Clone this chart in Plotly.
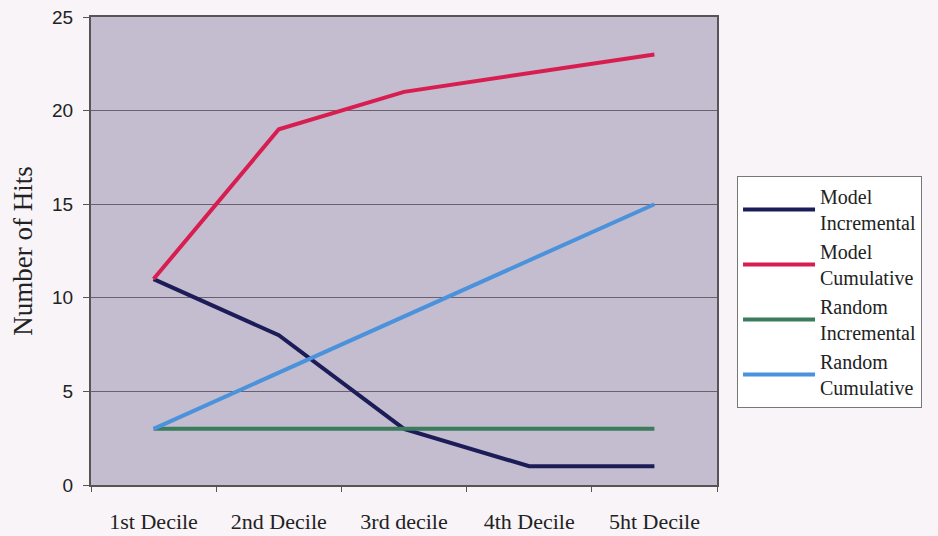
import plotly.graph_objects as go

categories = ["1st Decile", "2nd Decile", "3rd decile", "4th Decile", "5ht Decile"]
model_incremental = [11, 8, 3, 1, 1]
model_cumulative = [11, 19, 21, 22, 23]
random_incremental = [3, 3, 3, 3, 3]
random_cumulative = [3, 6, 9, 12, 15]

series = [
    ("Model<br>Incremental", model_incremental, "#1c1c58"),
    ("Model<br>Cumulative", model_cumulative, "#d81e50"),
    ("Random<br>Incremental", random_incremental, "#3a7c5c"),
    ("Random<br>Cumulative", random_cumulative, "#4a92dc"),
]

fig = go.Figure()
for name, vals, col in series:
    fig.add_trace(go.Scatter(x=categories, y=vals, mode="lines", name=name,
                             line=dict(color=col, width=4)))

fig.update_layout(
    width=938, height=536,
    margin=dict(l=91, r=221, t=17, b=51),
    paper_bgcolor="#f8f4f8",
    plot_bgcolor="#c4bccf",
    font=dict(family="Liberation Serif", color="#222"),
    legend=dict(x=1.032, y=0.66, xanchor="left", yanchor="top",
                bgcolor="#ffffff", bordercolor="#777", borderwidth=1,
                font=dict(family="Liberation Serif", size=20, color="#222"),
                tracegroupgap=5, itemwidth=72),
    showlegend=True,
)
fig.update_xaxes(type="category", range=[-0.5, 4.5], tickson="boundaries",
                 ticks="outside", ticklen=5, tickcolor="#555",
                 showline=True, linecolor="#555", linewidth=2, mirror=True,
                 showgrid=False, automargin=False,
                 tickfont=dict(family="Liberation Serif", size=22, color="#222"),
                 ticklabelstandoff=16)
fig.update_yaxes(range=[0, 25], dtick=5, ticks="outside", ticklen=6, tickcolor="#555",
                 showline=True, linecolor="#555", linewidth=2, mirror=True,
                 showgrid=True, gridcolor="#6a6070", gridwidth=1,
                 zeroline=False, automargin=False, ticklabelstandoff=6,
                 tickfont=dict(family="Liberation Sans", size=19, color="#222"),
                 title=dict(text="Number of Hits", standoff=12,
                            font=dict(family="Liberation Serif", size=27, color="#222")))

fig.write_html("out.html", config={"displayModeBar": False},
               post_script="document.body.style.margin='0';")
